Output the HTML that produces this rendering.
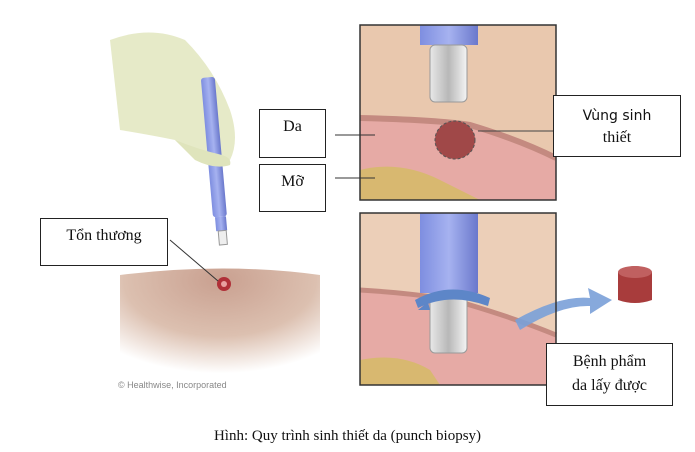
<!DOCTYPE html>
<html><head><meta charset="utf-8"><style>
body{margin:0;background:#fff;width:695px;height:452px;overflow:hidden;position:relative;font-family:"Liberation Serif",serif}
.b{position:absolute;background:#fff;border:1.5px solid #222;box-sizing:border-box;text-align:center;font-size:16px;color:#111}
</style></head><body>
<svg width="695" height="452" style="position:absolute;left:0;top:0">
<defs>
<radialGradient id="sk" cx="0.5" cy="0.1" r="0.8"><stop offset="0" stop-color="#c9a090"/><stop offset="0.6" stop-color="#dcc0b0"/><stop offset="1" stop-color="#fff"/></radialGradient>
<linearGradient id="tb" x1="0" x2="1"><stop offset="0" stop-color="#7e8ee0"/><stop offset="0.5" stop-color="#a6b2f0"/><stop offset="1" stop-color="#6a78cc"/></linearGradient>
<linearGradient id="mt" x1="0" x2="1"><stop offset="0" stop-color="#e8e8e8"/><stop offset="0.5" stop-color="#b8b8b8"/><stop offset="1" stop-color="#f4f4f4"/></linearGradient>
</defs>
<!-- glove -->
<path d="M110 40 Q150 25 185 40 Q215 70 230 110 Q240 140 230 160 L220 165 Q200 165 175 140 Q150 135 120 130 Z" fill="#e3e8c2" opacity="0.9"/>
<!-- skin mound left -->
<path d="M120 275 Q225 262 320 275 L320 385 L120 385 Z" fill="url(#sk)"/>
<circle cx="224" cy="284" r="7" fill="#b03038"/><circle cx="224" cy="284" r="3" fill="#e8a0a0"/>
<line x1="170" y1="240" x2="218" y2="281" stroke="#333" stroke-width="1"/>
<!-- pen -->
<g transform="rotate(-5 216 160)">
<rect x="208" y="77" width="14" height="140" rx="3" fill="url(#tb)"/>
<rect x="210" y="217" width="11" height="14" fill="url(#tb)"/>
<rect x="212" y="231" width="8" height="14" fill="#eee" stroke="#999"/>
</g>
<path d="M175 140 Q200 150 222 155 Q232 158 230 165 Q215 170 195 160 Z" fill="#dfe4bc"/>
<text x="118" y="388" font-family="Liberation Sans" font-size="9" fill="#888">© Healthwise, Incorporated</text>
<!-- top panel -->
<rect x="360" y="25" width="196" height="175" fill="#e9c8ae"/>
<path d="M360 118 Q440 120 470 125 Q520 140 556 158 L556 200 L360 200 Z" fill="#e6aaa5"/>
<path d="M360 118 Q440 120 470 125 Q520 140 556 158" stroke="#c48a80" stroke-width="6" fill="none"/>
<path d="M360 170 Q400 160 440 180 Q470 195 480 200 L360 200 Z" fill="#d8b870"/>
<rect x="420" y="25" width="58" height="20" fill="url(#tb)"/>
<rect x="430" y="45" width="37" height="57" rx="5" fill="url(#mt)" stroke="#999"/>
<ellipse cx="455" cy="140" rx="20" ry="19" fill="#a04848" stroke="#555" stroke-dasharray="3 2"/>
<rect x="360" y="25" width="196" height="175" fill="none" stroke="#333" stroke-width="1.5"/>
<line x1="335" y1="135" x2="375" y2="135" stroke="#333"/><line x1="335" y1="178" x2="375" y2="178" stroke="#333"/>
<line x1="478" y1="131" x2="553" y2="131" stroke="#444"/>
<!-- bottom panel -->
<rect x="360" y="213" width="196" height="172" fill="#eccfb8"/>
<path d="M360 290 Q440 295 470 305 Q520 320 556 335 L556 385 L360 385 Z" fill="#e6aaa5"/>
<path d="M360 290 Q440 295 470 305 Q520 320 556 335" stroke="#c48a80" stroke-width="5" fill="none"/>
<path d="M360 360 Q400 352 430 370 L440 385 L360 385 Z" fill="#d8b870"/>
<rect x="420" y="213" width="58" height="80" fill="url(#tb)"/>
<rect x="430" y="293" width="37" height="60" rx="5" fill="url(#mt)" stroke="#999"/>
<path d="M415 300 Q450 280 490 298 L488 306 Q450 292 418 308 Z" fill="#5d86c8"/>
<path d="M430 310 L418 310 L428 302 Z" fill="#5d86c8"/>
<path d="M515 320 Q560 295 590 298 L588 288 L612 300 L590 314 L590 306 Q560 305 520 330 Z" fill="#7aa0d8" opacity="0.9"/>
<path d="M618 272 Q635 260 652 272 L652 300 Q635 306 618 300 Z" fill="#a83c3c"/>
<ellipse cx="635" cy="272" rx="17" ry="6" fill="#c06060"/>
<rect x="360" y="213" width="196" height="172" fill="none" stroke="#333" stroke-width="1.5"/>
</svg>
<div class="b" style="left:259px;top:109px;width:67px;height:49px;padding-top:8px">Da</div>
<div class="b" style="left:259px;top:164px;width:67px;height:48px;padding-top:8px">Mỡ</div>
<div class="b" style="left:40px;top:218px;width:128px;height:48px;padding-top:8px">Tổn thương</div>
<div class="b" style="left:553px;top:95px;width:128px;height:62px;padding-top:9px;font-family:'DejaVu Sans',sans-serif;font-size:14px;line-height:22px">Vùng sinh<br><span style="font-family:'Liberation Serif',serif;font-size:16px">thiết</span></div>
<div class="b" style="left:546px;top:343px;width:127px;height:63px;padding-top:6px;line-height:24px">Bệnh phẩm<br>da lấy được</div>
<div style="position:absolute;left:0;width:695px;top:428px;text-align:center;font-size:15px;color:#111">Hình: Quy trình sinh thiết da (punch biopsy)</div>
</body></html>
